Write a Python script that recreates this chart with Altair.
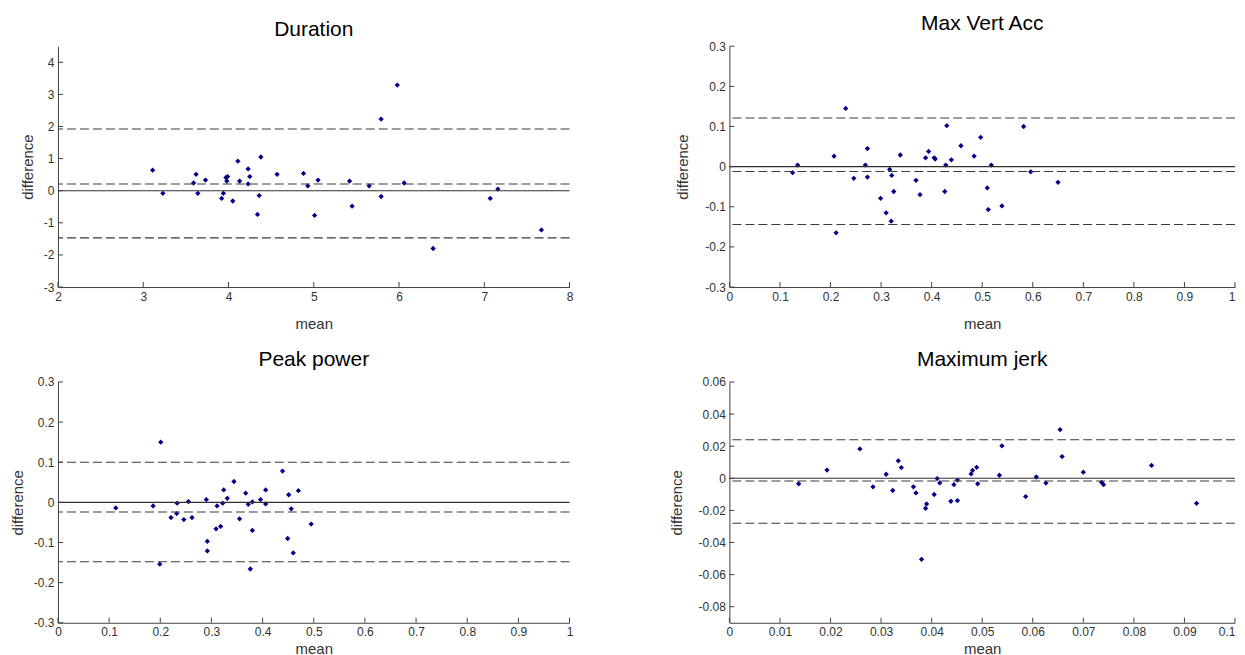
import altair as alt
import pandas as pd

# ---------------- data ----------------
# Duration
dur_mean = [3.11, 3.23, 3.59, 3.62, 3.64, 3.73, 3.92, 3.94, 3.97, 3.99, 3.98, 4.05,
            4.11, 4.13, 4.23, 4.25, 4.23, 4.36, 4.34, 4.38, 4.57, 4.88, 4.93, 5.01,
            5.05, 5.42, 5.45, 5.65, 5.79, 5.79, 5.98, 6.06, 6.40, 7.07, 7.16, 7.67]
dur_diff = [0.64, -0.08, 0.24, 0.51, -0.08, 0.33, -0.24, -0.08, 0.41, 0.44, 0.30, -0.32,
            0.92, 0.30, 0.68, 0.44, 0.21, -0.15, -0.74, 1.05, 0.51, 0.54, 0.15, -0.77,
            0.33, 0.30, -0.48, 0.15, -0.18, 2.23, 3.29, 0.24, -1.80, -0.24, 0.05, -1.22]
dur_lines = [1.92, 0.21, -1.47]

# Max Vert Acc
mva_mean = [0.125, 0.135, 0.207, 0.211, 0.230, 0.246, 0.269, 0.273, 0.273, 0.299, 0.310, 0.317,
            0.320, 0.321, 0.325, 0.338, 0.369, 0.377, 0.388, 0.394, 0.405, 0.407, 0.426, 0.428,
            0.430, 0.439, 0.458, 0.484, 0.497, 0.510, 0.512, 0.518, 0.539, 0.582, 0.596, 0.650]
mva_diff = [-0.015, 0.004, 0.026, -0.165, 0.145, -0.029, 0.004, 0.045, -0.026, -0.079, -0.115, -0.007,
            -0.136, -0.022, -0.062, 0.029, -0.034, -0.070, 0.022, 0.038, 0.022, 0.019, -0.062, 0.004,
            0.102, 0.017, 0.052, 0.026, 0.073, -0.053, -0.107, 0.004, -0.098, 0.100, -0.013, -0.039]
mva_lines = [0.121, -0.012, -0.144]

# Peak power
pp_mean = [0.113, 0.186, 0.201, 0.199, 0.221, 0.232, 0.233, 0.246, 0.255, 0.262, 0.290, 0.292,
           0.292, 0.309, 0.311, 0.318, 0.322, 0.324, 0.331, 0.344, 0.355, 0.367, 0.372, 0.380,
           0.380, 0.376, 0.396, 0.406, 0.406, 0.439, 0.449, 0.451, 0.456, 0.460, 0.470, 0.495]
pp_diff = [-0.014, -0.009, 0.150, -0.154, -0.038, -0.028, -0.002, -0.043, 0.002, -0.038, 0.007, -0.097,
           -0.121, -0.066, -0.009, -0.060, -0.002, 0.031, 0.010, 0.052, -0.041, 0.023, -0.005, 0.001,
           -0.070, -0.166, 0.007, 0.031, -0.004, 0.078, -0.090, 0.019, -0.016, -0.126, 0.029, -0.054]
pp_lines = [0.100, -0.024, -0.148]

# Maximum jerk
mj_mean = [0.0137, 0.0193, 0.0258, 0.0284, 0.0310, 0.0323, 0.0334, 0.0340, 0.0364, 0.0369, 0.0380, 0.0390,
           0.0388, 0.0405, 0.0411, 0.0416, 0.0438, 0.0444, 0.0451, 0.0451, 0.0478, 0.0481, 0.0489, 0.0491,
           0.0534, 0.0539, 0.0586, 0.0607, 0.0626, 0.0654, 0.0658, 0.0700, 0.0736, 0.0740, 0.0835, 0.0924]
mj_diff = [-0.0034, 0.0051, 0.0183, -0.0053, 0.0025, -0.0076, 0.0109, 0.0067, -0.0053, -0.0091, -0.0505, -0.0160,
           -0.0187, -0.0101, -0.0002, -0.0029, -0.0143, -0.0040, -0.0139, -0.0011, 0.0027, 0.0049, 0.0068, -0.0034,
           0.0019, 0.0202, -0.0114, 0.0008, -0.0030, 0.0303, 0.0135, 0.0038, -0.0025, -0.0040, 0.0080, -0.0156]
mj_lines = [0.024, -0.0017, -0.028]

zero_line = [0]

# axes
dur_xdom, dur_ydom = [2, 8], [-3, 4.5]
dur_xticks = [2, 3, 4, 5, 6, 7, 8]
dur_yticks = [-3, -2, -1, 0, 1, 2, 3, 4]
unit_xdom, unit_ydom = [0, 1], [-0.3, 0.3]
unit_xticks = [0, 0.1, 0.2, 0.3, 0.4, 0.5, 0.6, 0.7, 0.8, 0.9, 1]
unit_yticks = [-0.3, -0.2, -0.1, 0, 0.1, 0.2, 0.3]
mj_xdom, mj_ydom = [0, 0.1], [-0.09, 0.06]
mj_xticks = [0, 0.01, 0.02, 0.03, 0.04, 0.05, 0.06, 0.07, 0.08, 0.09, 0.1]
mj_yticks = [-0.08, -0.06, -0.04, -0.02, 0, 0.02, 0.04, 0.06]

H = 241
FONT = "Liberation Sans"
AX = "#404040"
LAST_RIGHT = {"condition": {"test": "datum.index == 1", "value": "right"}, "value": "center"}


def panel(title, xs, ys, lines, xdom, ydom, xticks, yticks, width, xtitle_pad, ytitle_pad, flush_last):
    xsc = alt.Scale(domain=xdom, nice=False, zero=False)
    ysc = alt.Scale(domain=ydom, nice=False, zero=False)
    xkw = dict(values=xticks, title="mean", labelExpr="datum.value + ''", ticks=False,
               grid=False, labelPadding=4, titlePadding=xtitle_pad, labelFlush=False)
    if flush_last:
        xkw["labelAlign"] = LAST_RIGHT
    xaxis = alt.Axis(**xkw)
    yaxis = alt.Axis(values=yticks, title="difference", labelExpr="datum.value + ''", ticks=False,
                     grid=False, labelPadding=4, titlePadding=ytitle_pad)
    pts = pd.DataFrame({"mean": xs, "difference": ys})
    points = alt.Chart(pts).mark_point(filled=True, shape="diamond", size=28, color="#00008b",
                                       opacity=1).encode(
        x=alt.X("mean:Q", scale=xsc, axis=xaxis),
        y=alt.Y("difference:Q", scale=ysc, axis=yaxis),
    )
    dashed = alt.Chart(pd.DataFrame({"v": lines})).mark_rule(
        strokeDash=[9, 4], color="#3a3a3a", strokeWidth=1.1).encode(
        y=alt.Y("v:Q", scale=ysc, axis=yaxis))
    zero = alt.Chart(pd.DataFrame({"v": zero_line})).mark_rule(
        color="#303030", strokeWidth=1.1).encode(y=alt.Y("v:Q", scale=ysc, axis=yaxis))
    xt = alt.Chart(pd.DataFrame({"t": xticks})).mark_rule(color=AX).encode(
        x=alt.X("t:Q", scale=xsc, axis=xaxis), y=alt.value(H), y2=alt.value(H - 5))
    yt = alt.Chart(pd.DataFrame({"t": yticks})).mark_rule(color=AX).encode(
        y=alt.Y("t:Q", scale=ysc, axis=yaxis), x=alt.value(0), x2=alt.value(5))
    return alt.layer(points, dashed, zero, xt, yt).properties(
        width=width, height=H,
        title=alt.TitleParams(text=title, fontSize=21, font=FONT, fontWeight="normal",
                              color="black", anchor="middle", offset=6),
    )


WL, WR = 512, 506
p1 = panel("Duration", dur_mean, dur_diff, dur_lines, dur_xdom, dur_ydom, dur_xticks, dur_yticks,
           WL, 14, 8, False)
p2 = panel("Max Vert Acc", mva_mean, mva_diff, mva_lines, unit_xdom, unit_ydom, unit_xticks, unit_yticks,
           WR, 14, 14, True)
p3 = panel("Peak power", pp_mean, pp_diff, pp_lines, unit_xdom, unit_ydom, unit_xticks, unit_yticks,
           WL, 4, 8, False)
p4 = panel("Maximum jerk", mj_mean, mj_diff, mj_lines, mj_xdom, mj_ydom, mj_xticks, mj_yticks,
           WR, 4, 14, True)

chart = alt.concat(p1, p2, p3, p4, columns=2, spacing={"row": 95, "column": 160},
                   bounds="flush").properties(
    padding={"left": 1, "top": 4, "right": 0, "bottom": 0}
).configure_view(stroke="transparent").configure_axis(
    domainColor=AX, domainWidth=1, labelFont=FONT, labelFontSize=12, labelColor="#333333",
    titleFont=FONT, titleFontSize=15, titleFontWeight="normal", titleColor="#333333",
)

chart.save("out.html", embed_options={"renderer": "svg", "actions": False})
